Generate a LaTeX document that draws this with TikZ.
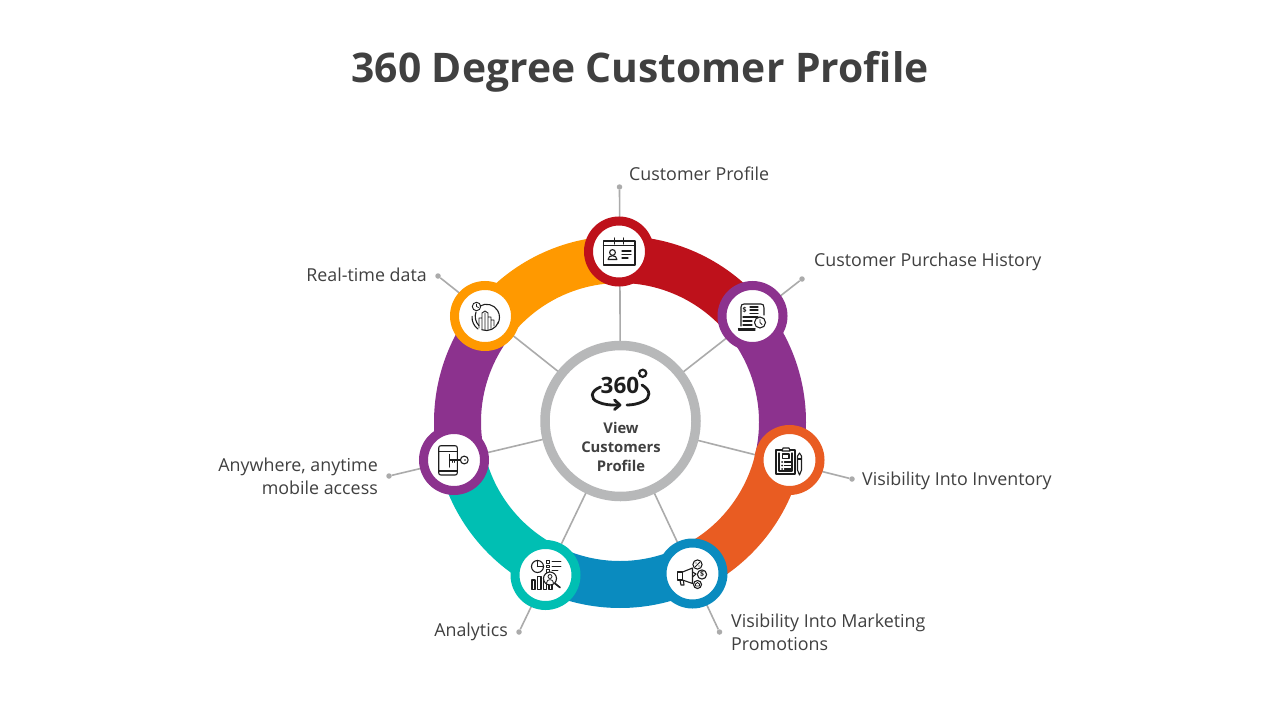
\documentclass[tikz,border=0pt]{standalone}
\usepackage{fontspec}
\setmainfont{Open Sans}
\usetikzlibrary{calc}
\definecolor{cred}{HTML}{BE111B}
\definecolor{cpurple}{HTML}{8C328E}
\definecolor{corange}{HTML}{FF9900}
\definecolor{cflame}{HTML}{E95C22}
\definecolor{cblue}{HTML}{0A8BBF}
\definecolor{cteal}{HTML}{00BFB3}
\definecolor{cgray}{HTML}{B7B8B9}
\definecolor{cline}{HTML}{ABABAB}
\definecolor{ctext}{HTML}{404040}
\definecolor{cink}{HTML}{1E1E1E}
\tikzset{
  badge/.style={circle,draw=#1,fill=white,line width=9pt,minimum size=61pt,inner sep=0pt},
  hub/.style={circle,draw=cgray,fill=white,line width=9.5pt,minimum size=151pt,inner sep=0pt},
  tip/.style={circle,fill=cline,minimum size=5.5pt,inner sep=0pt},
  spoke/.style={draw=cline,line width=1.6pt},
  lab/.style={text=ctext,font=\fontsize{17.85}{23}\selectfont,inner sep=0pt},
  labl/.style={lab,anchor=west,align=left},
  labr/.style={lab,anchor=east,align=right},
  ttl/.style={text=ctext,font=\bfseries\fontsize{40.8}{48}\selectfont,inner sep=0pt},
  hubtxt/.style={text=ctext,font=\bfseries\fontsize{14.8}{19}\selectfont,align=center,inner sep=0pt},
  ico/.style={draw=cink,line width=1.1pt,line cap=round,line join=round},
  icotxt/.style={text=cink,inner sep=0pt,font=\bfseries\fontsize{7}{7}\selectfont},
}
\newcommand{\band}[3]{\fill[#1] (c) ++(#2:186pt) arc[start angle=#2,end angle=#3,radius=186pt] -- ($(c)+(#3:139pt)$) arc[start angle=#3,end angle=#2,radius=139pt] -- cycle;}
\begin{document}
\begin{tikzpicture}[x=1pt,y=-1pt]
\useasboundingbox[fill=white] (0,0) rectangle (1280,720);
\coordinate (c) at (620,422);
\node[ttl] (title) at (640,72) {360 Degree Customer Profile};
% tips
\node[tip] (t1) at (619.5,187) {};
\node[tip] (t2) at (802,279) {};
\node[tip] (t3) at (852,479) {};
\node[tip] (t4) at (719.5,632) {};
\node[tip] (t5) at (519,632) {};
\node[tip] (t6) at (389,476) {};
\node[tip] (t7) at (438,276) {};
\coordinate (hc) at (620.5,421);
\foreach \i in {1,...,7} {\draw[spoke] (t\i) -- (hc);}
% ring
\band{cred}{90}{38.3}
\band{cpurple}{38.3}{-13}
\band{cflame}{-13}{-64}
\band{cblue}{-64}{-116}
\band{cteal}{-116}{-167}
\band{cpurple}{-167}{-218}
\band{corange}{-218}{-270}
% hub + badges
\node[hub] (hub) at (hc) {};
\node[badge=cred] (n1) at (619,251.5) {};
\node[badge=cpurple] (n2) at (752.5,316) {};
\node[badge=cflame] (n3) at (789.5,460) {};
\node[badge=cblue] (n4) at (692.5,573.5) {};
\node[badge=cteal] (n5) at (545.5,575) {};
\node[badge=cpurple] (n6) at (454,460) {};
\node[badge=corange] (n7) at (485,316) {};
% labels
\node[labl] (l1) at (629,174) {Customer Profile};
\node[labl] (l2) at (814,261.5) {Customer Purchase History};
\node[labl] (l3) at (862,480.5) {Visibility Into Inventory};
\node[labl] (l4) at (731,632) {Visibility Into Marketing\\Promotions};
\node[labr] (l5) at (508,632) {Analytics};
\node[labr] (l6) at (378,476) {Anywhere, anytime\\mobile access};
\node[labr] (l7) at (427,274.5) {Real-time data};
\node[hubtxt] (ht) at (621,447) {View\\Customers\\Profile};
% 360 icon
\node[text=cink,font=\bfseries\fontsize{22.5}{22}\selectfont,inner sep=0pt] (i360) at (620,385.5) {360};
\draw[cink,line width=2.2pt] (642.7,373.3) circle (3.6);
\draw[cink,line width=2.8pt,line cap=round] (600.5,387) .. controls (590,391) and (590,399) .. (598,402) .. controls (603,404.5) and (610,405.3) .. (619,405);
\draw[cink,line width=2.8pt,line cap=round,line join=round] (614.5,400) -- (620,405) -- (614.5,409.5);
\draw[cink,line width=2.8pt,line cap=round] (642,385) .. controls (651,390) and (651,398) .. (643,401.5) .. controls (638,404) and (632,405) .. (627,405);
% icon 1: calendar profile
\draw[ico] (603.5,241) rectangle (635,265);
\draw[ico] (603.5,245.5) -- (635,245.5);
\draw[ico] (614.5,238) -- (614.5,244) (623.5,238) -- (623.5,244);
\draw[ico] (612.5,252.5) circle (2.9);
\draw[ico] (608,259.5) .. controls (608,254.5) and (617,254.5) .. (617,259.5) -- cycle;
\draw[ico] (622,251) -- (631,251) (622,254.5) -- (631,254.5) (622,258) -- (628,258);
% icon 2: invoice + clock
\draw[ico] (741,326) -- (741,307) .. controls (741,305) and (742,304) .. (744,304) -- (761,304) .. controls (763,304) and (764,305) .. (764,308) -- (764,315);
\draw[ico] (738.5,328.5) -- (738.5,330) -- (755,330) (738.5,328.5) -- (755,328.5);
\node[icotxt] (i2d) at (744.5,310) {\$};
\draw[ico] (750,307) -- (758,307) (750,310) -- (758,310) (750,313.5) -- (758,313.5);
\draw[ico] (743,317) -- (758,317) (743,321) -- (752,321) (743,325) -- (752,325);
\draw[ico,fill=white] (760,322.5) circle (5.5);
\draw[ico,line width=.8pt] (760,319.5) -- (760,322.5) -- (762,324.5);
% icon 3: clipboard + pen
\draw[ico] (776,450) rectangle (795,474);
\draw[ico] (779,453) -- (779,471) -- (792,471) -- (792,453);
\draw[ico,fill=white] (782,451) -- (783,448) -- (789,448) -- (790,451) -- cycle;
\draw[ico] (782.5,454) rectangle (789,458.5);
\fill[cink] (782,462) circle (1) (782,465.5) circle (1) (782,469) circle (1);
\draw[ico] (784.5,462) -- (791,462) (784.5,465.5) -- (791,465.5) (784.5,469) -- (791,469);
\draw[ico] (797.5,456) -- (799.5,453) -- (801.5,456) -- (801.5,470) -- (799.5,475) -- (797.5,470) -- cycle;
\draw[ico] (797.5,459) -- (801.5,459);
% icon 4: megaphone
\draw[ico] (677.5,572) rectangle (682.5,580);
\draw[ico] (682.5,572) -- (692.5,568) -- (692.5,583.5) -- (682.5,580);
\draw[ico] (680,580) -- (681,585) -- (684,585) -- (683.5,581);
\draw[ico] (692.5,572) -- (696,574) -- (692.5,577);
\draw[ico] (697.5,564.5) circle (4.6);
\draw[ico,line width=.8pt] (695.5,566.5) -- (699.5,562.5);
\fill[cink] (696,563) circle (.7) (699,566) circle (.7);
\draw[ico] (702,574.5) circle (4.6);
\node[icotxt] (i4d) at (702,574.5) {\$};
\draw[ico] (697.5,584.5) circle (4);
\draw[ico,line width=.8pt] (695.5,586) -- (695.5,584) -- (697.5,582.5) -- (699.5,584) -- (699.5,586) -- cycle;
% icon 5: analytics
\draw[ico] (537.5,566.5) circle (6);
\draw[ico] (537.5,566.5) -- (537.5,560.5) (537.5,566.5) -- (543.5,566.5);
\draw[ico,line width=.8pt] (546.5,560.5) rectangle (549,563) (546.5,565) rectangle (549,567.5) (546.5,569.5) rectangle (549,572);
\draw[ico,line width=.8pt] (552,561.5) -- (561,561.5) (552,566) -- (561,566) (552,570.5) -- (558,570.5);
\draw[ico] (532,580) rectangle (535,589.5) (537.5,576.5) rectangle (541,589.5) (543.5,580) rectangle (546.5,589.5) (549,583) rectangle (552,589.5);
\draw[ico,fill=white] (550,578.5) circle (6.5);
\draw[ico,line width=.8pt] (550,576.5) circle (2);
\draw[ico,line width=.8pt] (546.5,583) .. controls (546.5,578.5) and (553.5,578.5) .. (553.5,583);
\draw[ico,line width=1.7pt] (555,583.5) -- (560,587.5);
% icon 6: phone + key
\draw[ico] (438.7,448) .. controls (438.7,446.5) and (439.5,445.7) .. (441,445.7) -- (455,445.7) .. controls (456.5,445.7) and (457.3,446.5) .. (457.3,448) -- (457.3,472.8) .. controls (457.3,474.3) and (456.5,475) .. (455,475) -- (441,475) .. controls (439.5,475) and (438.7,474.3) .. (438.7,472.8) -- cycle;
\draw[ico] (438.7,451.5) -- (457.3,451.5) (438.7,471) -- (457.3,471);
\draw[ico] (449.5,454.5) -- (449.5,467);
\draw[ico] (449.5,460) -- (460.5,460);
\draw[ico,line width=.8pt] (452,460) -- (452,462.5) (454.5,460) -- (454.5,462.5) (457,460) -- (457,462.5);
\draw[ico] (464.3,460) circle (3.9);
\fill[cink] (465,460) circle (.8);
% icon 7: real-time data
\draw[ico] (480,306) arc[start angle=120,end angle=-30,radius=13pt];
\draw[ico] (478,329) arc[start angle=235,end angle=175,radius=14pt];
\draw[ico] (498.5,322) arc[start angle=-20,end angle=-110,radius=13pt];
\draw[ico] (476,312) arc[start angle=160,end angle=225,radius=13pt];
\draw[ico,line width=.9pt] (476.5,306.5) circle (4.2);
\draw[ico,line width=.7pt] (476.5,304) -- (476.5,306.5) -- (478.5,307.5);
\draw[ico,line width=.9pt] (479,328) -- (479,318) -- (482,318) -- (482,329.5) (482,318) -- (482,313) -- (485,311) -- (488,313) -- (488,329.5) (485,313) -- (485,330) (488,317) -- (491,317) -- (491,328.5) -- (491,320) -- (494,320) -- (494,326);
\end{tikzpicture}
\end{document}
